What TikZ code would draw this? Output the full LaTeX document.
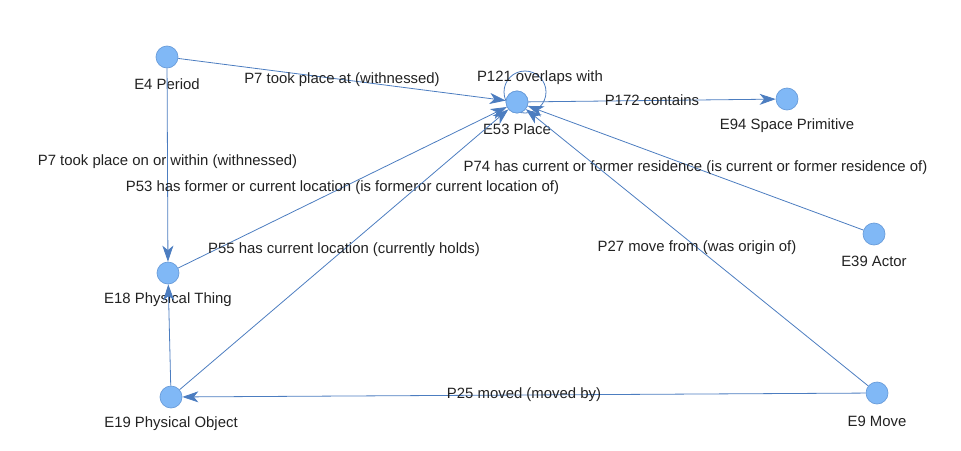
\documentclass[tikz,border=0pt]{standalone}
\usepackage{fontspec}
\setmainfont{Liberation Sans}
\usetikzlibrary{arrows.meta}
\definecolor{nodefill}{HTML}{80B8F6}
\definecolor{nodedraw}{HTML}{6A9DDA}
\definecolor{edgecol}{HTML}{4C7DC0}
\definecolor{txt}{HTML}{222222}
\begin{document}
\begin{tikzpicture}[x=1pt,y=-1pt,
  ent/.style={circle,fill=nodefill,draw=nodedraw,line width=0.7pt,minimum size=22pt,inner sep=0pt},
  entlabel/.style={font=\fontsize{14.9}{16}\selectfont,text=txt,inner sep=0pt},
  rel/.style={draw=edgecol,line width=0.8pt,-{Stealth[length=16pt,width=11pt,inset=4.5pt]}},
  reltext/.style={font=\fontsize{14.9}{16}\selectfont,text=txt,inner sep=0pt},
  rellabel/.style={reltext,midway}]
\useasboundingbox (0,0) rectangle (961,450);
\node[ent] (e4) at (167,57) {};
\node[ent] (e53) at (517,102) {};
\node[ent] (e94) at (787,99) {};
\node[ent] (e18) at (168,273) {};
\node[ent] (e39) at (874,234) {};
\node[ent] (e19) at (171,397) {};
\node[ent] (e9) at (877,393) {};

\node[entlabel] (le4) at (167,84) {E4 Period};
\node[entlabel] (le53) at (517,129) {E53 Place};
\node[entlabel] (le94) at (787,126) {E94 Space Primitive};
\node[entlabel] (le18) at (168,300) {E18 Physical Thing};
\node[entlabel] (le39) at (874,261) {E39 Actor};
\node[entlabel] (le19) at (171,424) {E19 Physical Object};
\node[entlabel] (le9) at (877,421) {E9 Move};

\draw[rel] (e4) -- (e53) node[rellabel] {P7 took place at (withnessed)};
\draw[rel] (e4) -- (e18) node[rellabel,yshift=3pt] {P7 took place on or within (withnessed)};
\draw[rel] (e18) -- (e53) node[rellabel] {P53 has former or current location (is formeror current location of)};
\draw[rel] (e19) -- (e53) node[rellabel] {P55 has current location (currently holds)};
\draw[rel] (e19) -- (e18);
\draw[rel] (e53) -- (e94) node[rellabel] {P172 contains};
\draw[rel] (e39) -- (e53) node[rellabel] {P74 has current or former residence (is current or former residence of)};
\draw[rel] (e9) -- (e53) node[rellabel] {P27 move from (was origin of)};
\draw[rel] (e9) -- (e19) node[rellabel] {P25 moved (moved by)};
\draw[draw=edgecol,line width=0.8pt] ([shift={(8,-10)}]e53.center) circle (21);
\node[reltext] (l121) at (540,78) {P121 overlaps with};
\node[ent] at (e53) {};
\end{tikzpicture}
\end{document}
